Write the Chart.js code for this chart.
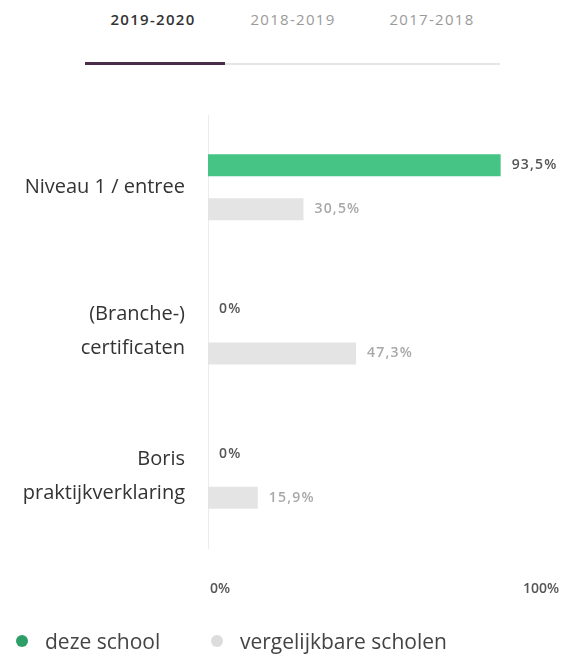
<!DOCTYPE html>
<html>
<head>
<meta charset="utf-8">
<script src="https://cdn.jsdelivr.net/npm/chart.js@4"></script>
<style>
    html, body { margin: 0; padding: 0; background: #fff; }
    #page { position: relative; width: 567px; height: 659px; overflow: hidden; font-family: 'Open Sans', sans-serif; }
    .tab { position: absolute; top: 9px; width: 120px; margin-left: -60px; text-align: center; font-size: 15px; letter-spacing: 1.3px; color: #9a9a9a; }
    .tab.active { color: #333; font-weight: 600; }
    #rail { position: absolute; left: 85px; top: 63px; width: 415px; height: 2px; background: #e6e6e6; }
    #marker { position: absolute; left: 85px; top: 62px; width: 140px; height: 3px; background: #4a2d4a; }
    #chart { position: absolute; left: 0; top: 0; }
    .key { position: absolute; top: 626px; font-size: 21px; line-height: 30px; color: #444; white-space: nowrap; }
    .key i { position: absolute; left: -29px; top: 9px; width: 12px; height: 12px; border-radius: 50%; }
</style>
</head>
<body>
<div id="page">
    <div class="tab active" style="left:153px">2019-2020</div>
    <div class="tab" style="left:293px">2018-2019</div>
    <div class="tab" style="left:432px">2017-2018</div>
    <div id="rail"></div>
    <div id="marker"></div>
    <canvas id="chart" width="567" height="659"></canvas>
    <div id="legend"></div>
</div>
<script>
const categories = ['Niveau 1 / entree', ['(Branche-)', 'certificaten'], ['Boris', 'praktijkverklaring']];
const dezeSchool = [93.5, 0, 0];
const vergelijkbareScholen = [30.5, 47.3, 15.9];
const xTicks = [0, 100];

const GREEN = '#45c486';
const GREY = '#e4e4e4';

const formatPercent = (v) => `${String(v).replace('.', ',')}%`;

// value text next to the end of each bar
const valueLabels = {
    id: 'valueLabels',
    afterDatasetsDraw(chart) {
        const { ctx } = chart;
        ctx.save();
        ctx.font = '600 14px "Open Sans"';
        ctx.letterSpacing = '1.2px';
        ctx.textBaseline = 'middle';
        ctx.textAlign = 'left';
        chart.data.datasets.forEach((ds, i) => {
            const meta = chart.getDatasetMeta(i);
            meta.data.forEach((bar, j) => {
                ctx.fillStyle = i === 0 ? '#555' : '#a8a8a8';
                ctx.fillText(formatPercent(ds.data[j]), bar.x + 11, bar.y);
            });
        });
        ctx.restore();
    }
};

const chart = new Chart(document.getElementById('chart'), {
    type: 'bar',
    data: {
        labels: categories,
        datasets: [
            {
                label: 'deze school',
                data: dezeSchool,
                backgroundColor: GREEN,
                legendColor: '#2e9e68',
                barPercentage: 0.5,
                categoryPercentage: 0.61,
            },
            {
                label: 'vergelijkbare scholen',
                data: vergelijkbareScholen,
                backgroundColor: GREY,
                legendColor: '#dcdcdc',
                barPercentage: 0.5,
                categoryPercentage: 0.61,
            },
        ],
    },
    options: {
        indexAxis: 'y',
        responsive: false,
        animation: false,
        layout: { padding: { top: 115, right: 46, bottom: 0, left: 0 } },
        plugins: {
            tooltip: { enabled: false },
            legend: { display: false },
        },
        scales: {
            x: {
                min: 0,
                max: 100,
                afterBuildTicks(scale) {
                    scale.ticks = xTicks.map((value) => ({ value }));
                },
                afterFit(scale) {
                    scale.height = 111;
                    scale.paddingRight = 0;
                },
                grid: { display: false, drawTicks: false },
                border: { display: false },
                ticks: {
                    align: 'start',
                    labelOffset: 2,
                    padding: 33,
                    color: '#555',
                    font: { family: 'Open Sans', size: 14, weight: '600' },
                    callback: (v) => `${v}%`,
                },
            },
            y: {
                afterFit(scale) {
                    scale.width = 208;
                },
                grid: { display: false, drawTicks: false },
                border: { display: true, color: '#ececec', width: 1 },
                ticks: {
                    padding: 23,
                    color: '#333',
                    font: { family: 'Open Sans', size: 20, lineHeight: 1.7 },
                },
            },
        },
    },
    plugins: [valueLabels],
});

// legend below the chart, built from the datasets
const legendLeft = [45, 240];
const legendEl = document.getElementById('legend');
chart.data.datasets.forEach((ds, i) => {
    const item = document.createElement('div');
    item.className = 'key';
    item.style.left = `${legendLeft[i]}px`;
    const dot = document.createElement('i');
    dot.style.background = ds.legendColor;
    item.appendChild(dot);
    item.appendChild(document.createTextNode(ds.label));
    legendEl.appendChild(item);
});
</script>
</body>
</html>
